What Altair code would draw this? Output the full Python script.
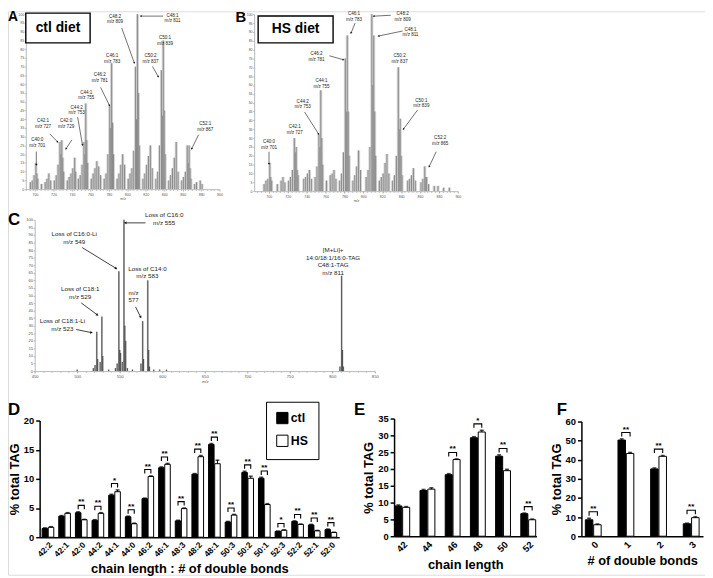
import math
import altair as alt
import pandas as pd

FONT = "Liberation Sans"
W, H = 705, 570

# ---------------- Panel A : spectrum, ctl diet (m/z, relative intensity) ----------------
a_peaks = [(695, 4), (697, 5), (699, 8), (701, 15), (702, 9), (703, 6), (707, 3), (711, 4), (713, 6),
           (715, 9), (717, 5), (721, 5), (723, 8), (725, 14), (727, 27), (728, 20), (729, 28), (730, 18),
           (731, 10), (735, 5), (737, 7), (739, 9), (741, 12), (743, 18), (744, 10), (747, 6), (749, 8),
           (751, 14), (753, 27), (754, 20), (755, 49), (756, 28), (757, 15), (761, 6), (763, 9), (765, 12),
           (767, 16), (769, 13), (771, 8), (775, 6), (777, 9), (779, 20), (781, 48), (782, 35), (783, 72),
           (784, 38), (785, 20), (789, 6), (791, 9), (793, 14), (795, 20), (797, 14), (801, 6), (803, 9),
           (805, 12), (807, 22), (809, 70), (810, 40), (811, 100), (812, 55), (813, 25), (817, 6), (819, 9),
           (821, 14), (823, 19), (825, 25), (827, 12), (831, 6), (833, 10), (835, 25), (837, 68), (838, 42),
           (839, 85), (840, 45), (841, 20), (845, 5), (847, 8), (849, 12), (851, 18), (853, 27), (855, 10),
           (859, 5), (861, 7), (863, 10), (865, 25), (866, 15), (867, 25), (868, 12), (869, 6), (873, 3),
           (875, 4), (879, 5), (881, 3)]
a_labels = [("C40:0\nm/z 701", 702.5, 29.7), ("C42:1\nm/z 727", 708.7, 40.4), ("C42:0\nm/z 729", 733.7, 40.4),
            ("C44:2\nm/z 753", 745.1, 48.3), ("C44:1\nm/z 755", 755.5, 56.8), ("C46:2\nm/z 781", 770.1, 67.0),
            ("C46:1\nm/z 783", 783.6, 77.7), ("C48:2\nm/z 809", 786.7, 100.3), ("C48:1\nm/z 811", 849.0, 100.8),
            ("C50:1\nm/z 839", 840.8, 87.9), ("C50:2\nm/z 837", 825.2, 77.7), ("C52:1\nm/z 867", 884.5, 38.7)]
a_arrows = [(701.4, 21.5, 701.4, 14.1), (716.0, 31.6, 724.3, 27.1), (739.9, 28.2, 733.7, 23.2),
            (746.2, 41.2, 751.4, 25.4), (771.1, 58.2, 780.5, 48.0), (794.0, 92.1, 807.5, 72.3),
            (838.7, 98.9, 814.8, 98.9), (827.3, 70.1, 833.5, 64.4), (877.2, 31.1, 869.9, 23.2)]
a_box = ("ctl diet", 690.0, 759.7, 100.6, 83.6)

# ---------------- Panel B : spectrum, HS diet ----------------
b_peaks = [(695, 4), (697, 6), (699, 7), (701, 16), (702, 8), (703, 6), (709, 4), (713, 6), (715, 8),
           (717, 5), (721, 6), (723, 8), (725, 12), (727, 30), (728, 22), (729, 25), (730, 12), (731, 9),
           (737, 7), (739, 8), (741, 10), (743, 12), (745, 7), (749, 8), (751, 14), (753, 32), (754, 25),
           (755, 57), (756, 30), (757, 15), (761, 6), (765, 9), (767, 10), (769, 12), (771, 7), (775, 6),
           (777, 10), (779, 22), (781, 75), (782, 45), (783, 88), (784, 45), (785, 20), (789, 6), (791, 9),
           (793, 14), (795, 23), (797, 12), (803, 8), (805, 12), (807, 25), (809, 100), (810, 60), (811, 88),
           (812, 45), (813, 20), (817, 6), (819, 8), (821, 10), (823, 16), (825, 21), (827, 10), (831, 6),
           (833, 9), (835, 20), (837, 70), (838, 35), (839, 41), (840, 20), (841, 9), (847, 6), (849, 7),
           (851, 9), (853, 13), (855, 6), (861, 5), (863, 7), (865, 14), (866, 8), (867, 8), (869, 4),
           (875, 3), (879, 3), (885, 2), (891, 2)]
b_labels = [("C40:0\nm/z 701", 700.2, 29.3), ("C42:1\nm/z 727", 727.4, 37.7), ("C44:2\nm/z 753", 735.8, 52.2),
            ("C44:1\nm/z 755", 755.7, 64.0), ("C46:2\nm/z 781", 750.5, 79.0), ("C46:1\nm/z 783", 790.2, 101.7),
            ("C48:2\nm/z 809", 841.6, 101.7), ("C48:1\nm/z 811", 849.9, 93.0), ("C50:2\nm/z 837", 838.4, 78.0),
            ("C50:1\nm/z 839", 861.4, 52.8), ("C52:2\nm/z 865", 881.3, 31.6)]
b_arrows = [(700.2, 22.3, 700.2, 15.6), (737.9, 44.7, 752.5, 32.4), (764.1, 76.5, 778.7, 74.3),
            (791.3, 95.0, 787.1, 89.5), (829.0, 99.4, 811.2, 98.9), (841.6, 90.5, 816.4, 87.7),
            (857.3, 45.8, 842.6, 35.2), (877.1, 22.3, 869.8, 14.0)]
b_box = ("HS diet", 688.7, 768.0, 99.0, 83.8)

# ---------------- Panel C : MS2 spectrum of m/z 811 ----------------
c_peaks = [(500, 1), (519, 2), (521, 4), (523, 26), (524, 8), (527, 6), (529, 36), (530, 10), (537, 1),
           (545, 2), (547, 5), (549, 66), (550, 14), (551, 12), (553, 6), (555, 100), (556, 30), (557, 20),
           (559, 2), (565, 1), (575, 5), (577, 33), (578, 8), (583, 60), (584, 14), (585, 3), (590, 1),
           (597, 1), (605, 1), (809, 3), (811, 63), (812, 14), (813, 3)]
c_labels = [("Loss of C16:0\nm/z 555", 602.3, 104.9), ("Loss of C16:0-Li\nm/z 549", 496.5, 92.5),
            ("Loss of C14:0\nm/z 583", 582.6, 69.6), ("m/z\n577", 566.3, 53.9),
            ("Loss of C18:1\nm/z 529", 503.5, 55.9), ("Loss of C18:1-Li\nm/z 523", 482.6, 35.0),
            ("[M+Li]+\n14:0/18:1/16:0-TAG\nC48:1-TAG\nm/z 811", 801.0, 82.0)]
c_arrows = [(580.3, 98.0, 557.0, 98.0), (505.8, 81.7, 545.4, 68.0), (568.6, 42.5, 574.4, 35.9),
            (504.7, 45.1, 523.3, 37.3), (498.8, 27.5, 516.3, 25.5)]

# ---------------- Panel D : % total TAG per species ----------------
d_cats = ["42:2", "42:1", "42:0", "44:2", "44:1", "44:0", "46:2", "46:1", "48:3", "48:2", "48:1",
          "50:3", "50:2", "50:1", "52:3", "52:2", "52:1", "52:0"]
d_ctl = [1.5, 3.6, 4.2, 2.9, 7.2, 3.5, 6.6, 11.9, 2.8, 10.8, 15.9, 2.6, 11.1, 10.1, 1.0, 2.7, 2.1, 1.3]
d_ctl_err = [0.1, 0.1, 0.15, 0.1, 0.15, 0.1, 0.1, 0.15, 0.1, 0.1, 0.15, 0.1, 0.2, 0.15, 0.05, 0.1, 0.1, 0.1]
d_hs = [1.7, 4.1, 3.0, 4.1, 7.8, 2.3, 10.4, 12.5, 4.9, 13.8, 12.6, 3.8, 10.1, 5.6, 1.2, 2.2, 1.1, 0.8]
d_hs_err = [0.1, 0.1, 0.05, 0.1, 0.3, 0.1, 0.1, 0.15, 0.1, 0.2, 0.6, 0.1, 0.35, 0.15, 0.05, 0.05, 0.05, 0.05]
d_sig = ["", "", "**", "**", "*", "**", "**", "**", "**", "**", "**", "**", "**", "**", "*", "**", "**", "**"]

# ---------------- Panel E : by chain length ----------------
e_cats = ["42", "44", "46", "48", "50", "52"]
e_ctl = [9.0, 13.6, 18.3, 29.3, 23.8, 6.7]
e_ctl_err = [0.3, 0.3, 0.3, 0.3, 0.4, 0.2]
e_hs = [8.6, 14.0, 22.8, 31.0, 19.5, 4.9]
e_hs_err = [0.2, 0.4, 0.2, 0.5, 0.4, 0.2]
e_sig = ["", "", "**", "*", "**", "**"]

# ---------------- Panel F : by number of double bonds ----------------
f_cats = ["0", "1", "2", "3"]
f_ctl = [8.6, 50.3, 35.2, 6.5]
f_ctl_err = [0.8, 0.6, 0.5, 0.3]
f_hs = [6.0, 43.3, 41.8, 9.7]
f_hs_err = [0.4, 0.5, 0.4, 0.5]
f_sig = ["**", "**", "**", "**"]

series = ["ctl", "HS"]


def pix(v, dom, rng):
    return rng[0] + (v - dom[0]) / (dom[1] - dom[0]) * (rng[1] - rng[0])


def minor_ticks(xdom, xrng, ydom, yrng, xminor):
    """Unlabelled minor tick marks along the spectrum x axis."""
    ax = alt.Axis(orient="bottom", offset=yrng[0] - H, values=xminor, labels=False, domain=False, grid=False,
                  tickSize=1.3, tickColor="#999", tickWidth=0.5, title=None)
    d = pd.DataFrame({"x": [xdom[0]], "y": [ydom[0]]})
    return alt.Chart(d).mark_point(opacity=0).encode(
        x=alt.X("x:Q", scale=alt.Scale(domain=xdom, range=xrng, nice=False, zero=False), axis=ax),
        y=alt.Y("y:Q", scale=alt.Scale(domain=ydom, range=yrng, nice=False, zero=False), axis=None))


def spectrum_panel(peaks, labels, arrows, box, xdom, xrng, ydom, yrng, xvals, yvals,
                   halo_color, core_color, halo_w, core_w, lab_size, lab_lh, arrow_w, head_size, tick_lab):
    xaxis = alt.Axis(orient="bottom", offset=yrng[0] - H, values=xvals, grid=False,
                     labelFontSize=tick_lab, labelColor="#555", labelPadding=1, labelFlush=False,
                     labelOverlap=False, tickSize=2, tickColor="#999", tickWidth=0.6,
                     domainColor="#999", domainWidth=0.7, title="m/z", titleFontSize=tick_lab,
                     titleFontStyle="italic", titleFontWeight="normal", titleColor="#555", titlePadding=1)
    yaxis = alt.Axis(orient="left", offset=-xrng[0], values=yvals, grid=False, labelFontSize=tick_lab,
                     labelColor="#555", labelPadding=0.5, labelOverlap=False, tickSize=1.6, tickColor="#999",
                     tickWidth=0.6, domainColor="#999", domainWidth=0.7, title=None)
    xs = alt.Scale(domain=xdom, range=xrng, nice=False, zero=False)
    ys = alt.Scale(domain=ydom, range=yrng, nice=False, zero=False)

    def X(f):
        return alt.X(f, type="quantitative", scale=xs, axis=xaxis)

    def Y(f):
        return alt.Y(f, type="quantitative", scale=ys, axis=yaxis)

    pk = pd.DataFrame({"x": [p[0] for p in peaks], "y": [p[1] for p in peaks], "y0": 0})
    layers = [
        alt.Chart(pk).mark_rule(color=halo_color, strokeWidth=halo_w).encode(x=X("x"), y=Y("y"), y2="y0"),
        alt.Chart(pk).mark_rule(color=core_color, strokeWidth=core_w).encode(x=X("x"), y=Y("y"), y2="y0"),
    ]
    lab = pd.DataFrame({"t": [l[0] for l in labels], "x": [l[1] for l in labels], "y": [l[2] for l in labels]})
    layers.append(alt.Chart(lab).mark_text(fontSize=lab_size, lineHeight=lab_lh, baseline="top", align="center",
                                           lineBreak="\n", color="#222", font=FONT)
                  .encode(x=X("x"), y=Y("y"), text="t"))
    rows = []
    for x1, y1, x2, y2 in arrows:
        dx = pix(x2, xdom, xrng) - pix(x1, xdom, xrng)
        dy = pix(y2, ydom, yrng) - pix(y1, ydom, yrng)
        ang = (math.degrees(math.atan2(dx, -dy)) + 360) % 360
        rows.append({"x": x1, "y": y1, "x2": x2, "y2": y2, "hx": x2, "hy": y2, "ang": ang})
    ar = pd.DataFrame(rows)
    layers.append(alt.Chart(ar).mark_rule(color="#111", strokeWidth=arrow_w)
                  .encode(x=X("x"), y=Y("y"), x2="x2", y2="y2"))
    layers.append(alt.Chart(ar).mark_point(shape="triangle", filled=True, size=head_size, color="#111", opacity=1)
                  .encode(x=X("hx"), y=Y("hy"), angle=alt.Angle("ang:Q", scale=None)))
    if box is not None:
        bx = pd.DataFrame({"t": [box[0]], "x": [box[1]], "x2": [box[2]], "y": [box[3]], "y2": [box[4]],
                           "tx": [(box[1] + box[2]) / 2], "ty": [(box[3] + box[4]) / 2]})
        layers.append(alt.Chart(bx).mark_rect(fill="white", stroke="black", strokeWidth=1.4)
                      .encode(x=X("x"), x2="x2", y=Y("y"), y2="y2"))
        layers.append(alt.Chart(bx).mark_text(fontSize=14, fontWeight="bold", font=FONT, color="black",
                                              baseline="middle", align="center")
                      .encode(x=X("tx"), y=Y("ty"), text="t"))
    return alt.layer(*layers)


def bar_panel(cats, ctl, ctl_err, hs, hs_err, sig, xrng, pin, pout, ydom, yrng, yvals, xtitle,
              lab_size, legend):
    rows = []
    for i, c in enumerate(cats):
        rows.append({"cat": c, "series": "ctl", "value": ctl[i], "top": ctl[i] + ctl_err[i]})
        rows.append({"cat": c, "series": "HS", "value": hs[i], "top": hs[i] + hs_err[i]})
    df = pd.DataFrame(rows)
    ppu = (yrng[0] - yrng[1]) / (ydom[1] - ydom[0])
    br, st = [], []
    for i, c in enumerate(cats):
        if sig[i]:
            top = max(ctl[i] + ctl_err[i], hs[i] + hs_err[i]) + 6.5 / ppu
            tk = 4.0 / ppu
            for k, (s, yv) in enumerate([("ctl", top - tk), ("ctl", top), ("HS", top), ("HS", top - tk)]):
                br.append({"cat": c, "series": s, "by": yv, "k": k})
            st.append({"cat": c, "ty": top + 1.0 / ppu, "s": sig[i]})
    brd = pd.DataFrame(br)
    std = pd.DataFrame(st)

    xaxis = alt.Axis(orient="bottom", offset=yrng[0] - H, ticks=False, labelAngle=315,
                     labelFontSize=lab_size, labelFontWeight="bold", labelColor="black", labelFont=FONT,
                     labelPadding=3, domainColor="black", domainWidth=1.5, title=xtitle, titleFontSize=13,
                     titleFontWeight="bold", titleColor="black", titleFont=FONT, titlePadding=5)
    yaxis = alt.Axis(orient="left", offset=-xrng[0], values=yvals, grid=False, tickSize=4, tickWidth=1.5,
                     tickColor="black", domainColor="black", domainWidth=1.5, labelFontSize=9.5,
                     labelFontWeight="bold", labelColor="black", labelFont=FONT, labelPadding=2,
                     title="% total TAG", titleFontSize=13, titleFontWeight="bold", titleColor="black",
                     titleFont=FONT, titlePadding=2)
    X = alt.X("cat:N", sort=cats, scale=alt.Scale(range=xrng, paddingInner=pin, paddingOuter=pout), axis=xaxis)
    XO = alt.XOffset("series:N", sort=series, scale=alt.Scale(domain=series, paddingInner=0.1))
    ys = alt.Scale(domain=ydom, range=yrng, nice=False)

    def Y(f):
        return alt.Y(f, type="quantitative", scale=ys, axis=yaxis)

    bars = alt.Chart(df).mark_bar(stroke="black", strokeWidth=1).encode(
        x=X, xOffset=XO, y=Y("value"),
        fill=alt.Fill("series:N", sort=series, scale=alt.Scale(domain=series, range=["#000000", "#ffffff"]),
                      legend=legend))
    err = alt.Chart(df).mark_rule(color="black", strokeWidth=1).encode(x=X, xOffset=XO, y=Y("value"), y2="top")
    cap = alt.Chart(df).mark_tick(color="black", thickness=1.6, size=4).encode(x=X, xOffset=XO, y=Y("top"))
    brk = alt.Chart(brd).mark_line(color="black", strokeWidth=1.1).encode(
        x=X, xOffset=XO, y=Y("by"), detail="cat:N", order="k:Q")
    stars = alt.Chart(std).mark_text(fontSize=8, fontWeight="bold", font=FONT, baseline="alphabetic",
                                     color="black").encode(x=X, y=Y("ty"), text="s")
    return alt.layer(bars, err, cap, brk, stars)


A_XR = [18, 214]
pA = spectrum_panel(a_peaks, a_labels, a_arrows, a_box, [690, 900], A_XR, [0, 100], [180, 3],
                    list(range(700, 901, 20)), list(range(0, 101, 5)), "#d2d2d2", "#8a8a8a", 3.0, 1.0,
                    4.6, 5.8, 0.6, 5, 3.6)
pB = spectrum_panel(b_peaks, b_labels, b_arrows, b_box, [684.5, 900], [249, 455], [0, 100], [182, 3],
                    list(range(700, 901, 20)), list(range(0, 101, 5)), "#d2d2d2", "#8a8a8a", 3.0, 1.0,
                    4.6, 5.8, 0.6, 5, 3.6)
pC = spectrum_panel(c_peaks, c_labels, c_arrows, None, [450, 850], [27, 371], [0, 100], [364, 211],
                    list(range(450, 851, 50)), list(range(0, 101, 5)), "#bbbbbb", "#444444", 1.8, 0.9,
                    6.3, 7.6, 0.8, 9, 4.2)
mA = minor_ticks([690, 900], A_XR, [0, 100], [180, 3], list(range(690, 901, 4)))
mB = minor_ticks([684.5, 900], [249, 455], [0, 100], [182, 3], list(range(688, 901, 4)))
mC = minor_ticks([450, 850], [27, 371], [0, 100], [364, 211], list(range(450, 851, 10)))

legend_d = alt.Legend(orient="none", legendX=261, legendY=395, title=None, symbolType="square",
                      symbolSize=130, symbolStrokeColor="black", symbolStrokeWidth=1, labelFontSize=12.5,
                      labelFontWeight="bold", labelFont=FONT, labelColor="black", strokeColor="black",
                      padding=10, rowPadding=6, labelOffset=2, fillColor="white")
pD = bar_panel(d_cats, d_ctl, d_ctl_err, d_hs, d_hs_err, d_sig, [32, 335], 0.3, 0.15, [0, 20], [532, 414],
               [0, 5, 10, 15, 20], "chain length : # of double bonds", 8.5, legend_d)
pE = bar_panel(e_cats, e_ctl, e_ctl_err, e_hs, e_hs_err, e_sig, [390.5, 534.5], 0.41, 0.03, [0, 35],
               [531, 412], [0, 5, 10, 15, 20, 25, 30, 35], "chain length", 9.5, None)
pF = bar_panel(f_cats, f_ctl, f_ctl_err, f_hs, f_hs_err, f_sig, [580, 703], 0.515, 0.12, [0, 60],
               [531, 415], [0, 10, 20, 30, 40, 50, 60], "# of double bonds", 9.5, None)

panel_letters = ["A", "B", "C", "D", "E", "F"]
letter_x = [0, 230, 0, 0, 350, 555]
letter_y = [-1, -1, 203, 395, 395, 395]
letter_size = [14, 15, 17, 17, 17, 17]
letter_layers = [
    alt.Chart(pd.DataFrame({"t": [t]})).mark_text(fontSize=s, fontWeight="bold", font=FONT, align="left",
                                                  baseline="top", color="black")
    .encode(text="t", x=alt.value(x), y=alt.value(y))
    for t, x, y, s in zip(panel_letters, letter_x, letter_y, letter_size)
]

chart = alt.layer(mA, mB, mC, pA, pB, pC, pD, pE, pF, *letter_layers).resolve_scale(
    x="independent", y="independent", xOffset="independent", fill="independent"
).properties(
    width=W, height=H, autosize=alt.AutoSizeParams(type="none"), padding=0
).configure_view(stroke=None).configure(font=FONT)

chart.save("out.html", embed_options={"renderer": "svg", "actions": False})
